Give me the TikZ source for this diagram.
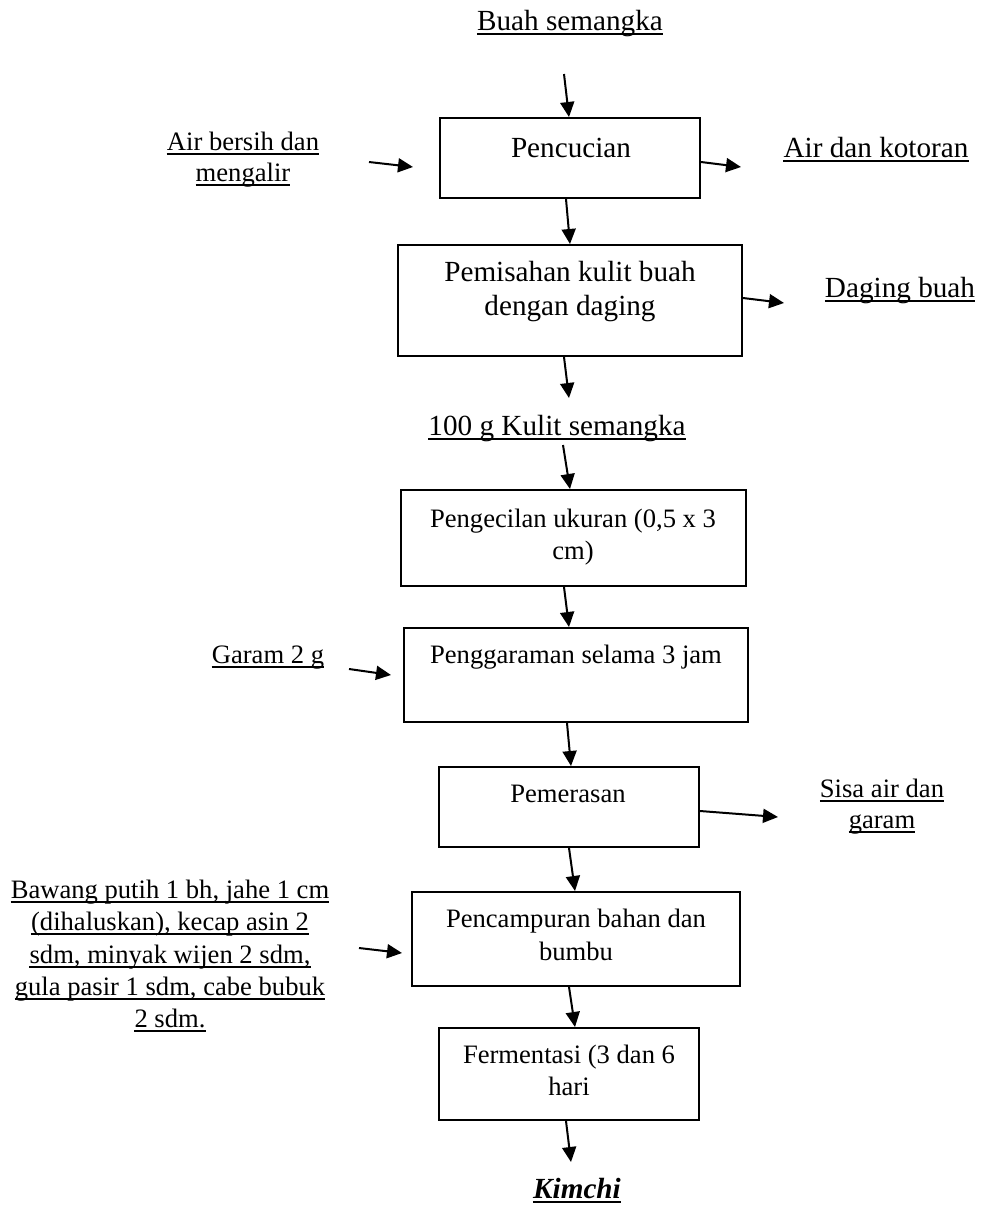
\documentclass[tikz,border=0pt]{standalone}
\usepackage{fontspec}
\setmainfont{Liberation Serif}
\usetikzlibrary{arrows.meta,calc}
\newcommand\fsA{\fontsize{29.2}{33}\selectfont}
\newcommand\fsB{\fontsize{26.6}{32}\selectfont}
\newcommand\ulit[1]{\draw[ulline] ([yshift=-4pt]#1.base west) -- ([yshift=-4pt]#1.base east);}
\begin{document}
\begin{tikzpicture}[x=1pt,y=-1pt,
  box/.style={draw, line width=2pt, inner sep=0pt},
  txtA/.style={inner sep=0pt, anchor=base, font=\fsA},
  txtB/.style={inner sep=0pt, anchor=base, font=\fsB},
  arr/.style={line width=2pt, -{Triangle[length=15pt,width=14pt]}},
  ulline/.style={line width=1.5pt}]
\useasboundingbox (0,0) rectangle (983,1211);

% boxes
\node[box, minimum width=260pt, minimum height=80pt]  (b1) at (570,158) {};
\node[box, minimum width=344pt, minimum height=111pt] (b2) at (570,300.5) {};
\node[box, minimum width=345pt, minimum height=96pt]  (b3) at (573.5,538) {};
\node[box, minimum width=344pt, minimum height=94pt]  (b4) at (576,675) {};
\node[box, minimum width=260pt, minimum height=80pt]  (b5) at (569,807) {};
\node[box, minimum width=328pt, minimum height=94pt]  (b6) at (576,939) {};
\node[box, minimum width=260pt, minimum height=92pt]  (b7) at (569,1074) {};

% box texts
\node[txtA] (b1t) at (571,157) {Pencucian};
\node[txtA] (b2ta) at (570,281) {Pemisahan kulit buah};
\node[txtA] (b2tb) at (570,315) {dengan daging};
\node[txtB] (b3ta) at (573,527) {Pengecilan ukuran (0,5 x 3};
\node[txtB] (b3tb) at (573,559) {cm)};
\node[txtB] (b4t) at (576,663) {Penggaraman selama 3 jam};
\node[txtB] (b5t) at (568,802) {Pemerasan};
\node[txtB] (b6ta) at (576,927) {Pencampuran bahan dan};
\node[txtB] (b6tb) at (576,960) {bumbu};
\node[txtB] (b7ta) at (569,1063) {Fermentasi (3 dan 6};
\node[txtB] (b7tb) at (569,1095) {hari};

% side / flow texts
\node[txtA] (buah) at (570,30) {Buah semangka}; \ulit{buah}
\node[txtB] (airA) at (243,150) {Air bersih dan}; \ulit{airA}
\node[txtB] (airB) at (243,181) {mengalir}; \ulit{airB}
\node[txtA] (kotor) at (876,157) {Air dan kotoran}; \ulit{kotor}
\node[txtA] (daging) at (900,297) {Daging buah}; \ulit{daging}
\node[txtA] (kulit) at (557,435) {100 g Kulit semangka}; \ulit{kulit}
\node[txtB] (garam) at (268,663) {Garam 2 g}; \ulit{garam}
\node[txtB] (sisaA) at (882,797) {Sisa air dan}; \ulit{sisaA}
\node[txtB] (sisaB) at (882,828) {garam}; \ulit{sisaB}
\node[txtB] (bw1) at (170,898) {Bawang putih 1 bh, jahe 1 cm}; \ulit{bw1}
\node[txtB] (bw2) at (170,930) {(dihaluskan), kecap asin 2}; \ulit{bw2}
\node[txtB] (bw3) at (170,963) {sdm, minyak wijen 2 sdm,}; \ulit{bw3}
\node[txtB] (bw4) at (170,995) {gula pasir 1 sdm, cabe bubuk}; \ulit{bw4}
\node[txtB] (bw5) at (170,1027) {2 sdm.}; \ulit{bw5}
\node[txtA, font=\fsA\bfseries\itshape] (kimchi) at (577,1198) {Kimchi}; \ulit{kimchi}

% free ends
\coordinate (c1) at (564,74);
\coordinate (c2s) at (369,162);
\coordinate (c2e) at (413,167);
\coordinate (c3) at (741,167);
\coordinate (c5) at (784,303);
\coordinate (c6) at (569,398);
\coordinate (c7) at (563,445);
\coordinate (c9s) at (349,669);
\coordinate (c9e) at (391,675);
\coordinate (c11) at (778,817);
\coordinate (c13s) at (359,948);
\coordinate (c13e) at (402,953);
\coordinate (c15) at (571,1162);

% arrows
\draw[arr] (c1) -- ([xshift=-1pt]b1.north);
\draw[arr] (c2s) -- (c2e);
\draw[arr] ([yshift=-4pt]b1.east) -- (c3);
\draw[arr] ([xshift=-4pt]b1.south) -- (b2.north);
\draw[arr] ([yshift=2.5pt]b2.east) -- (c5);
\draw[arr] ([xshift=-6pt]b2.south) -- (c6);
\draw[arr] (c7) -- ([xshift=-3.5pt]b3.north);
\draw[arr] ([xshift=-9.5pt]b3.south) -- ([xshift=-7pt]b4.north);
\draw[arr] (c9s) -- (c9e);
\draw[arr] ([xshift=-9pt]b4.south) -- ([xshift=2pt]b5.north);
\draw[arr] ([yshift=-4pt]b5.east) -- (c11);
\draw[arr] (b5.south) -- ([xshift=-1pt]b6.north);
\draw[arr] (c13s) -- (c13e);
\draw[arr] ([xshift=-7pt]b6.south) -- ([xshift=6pt]b7.north);
\draw[arr] ([xshift=-3pt]b7.south) -- (c15);
\end{tikzpicture}
\end{document}
